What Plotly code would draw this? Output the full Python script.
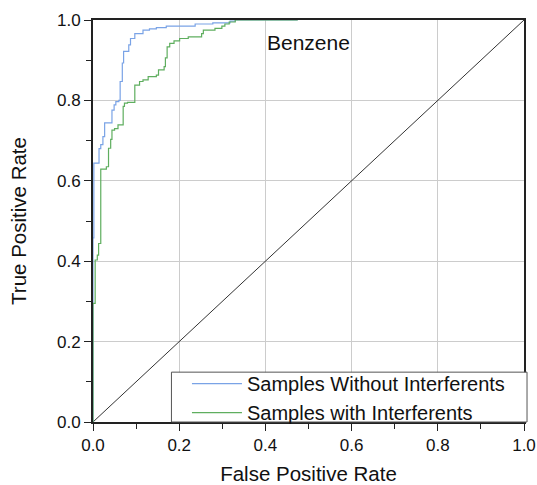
import plotly.graph_objects as go

# ROC data (step curves)
fpr_without = [0, 0, 0.002, 0.014, 0.018, 0.023, 0.027, 0.044, 0.049, 0.053, 0.060, 0.063,
               0.068, 0.071, 0.083, 0.087, 0.097, 0.116, 0.131, 0.147, 0.170, 0.237,
               0.278, 0.318, 0.330, 0.475]
tpr_without = [0, 0.458, 0.644, 0.680, 0.690, 0.710, 0.744, 0.776, 0.789, 0.797, 0.800, 0.847,
               0.893, 0.922, 0.938, 0.954, 0.966, 0.975, 0.978, 0.981, 0.985, 0.990,
               0.993, 0.997, 1.0, 1.0]

fpr_with = [0, 0, 0.005, 0.010, 0.013, 0.018, 0.031, 0.036, 0.041, 0.044, 0.050, 0.058,
            0.070, 0.073, 0.080, 0.097, 0.108, 0.116, 0.128, 0.147, 0.152, 0.165,
            0.168, 0.172, 0.178, 0.188, 0.201, 0.221, 0.252, 0.256, 0.283, 0.299,
            0.306, 0.316, 0.330, 0.475]
tpr_with = [0, 0.295, 0.403, 0.415, 0.444, 0.629, 0.635, 0.681, 0.703, 0.726, 0.730, 0.739,
            0.785, 0.793, 0.795, 0.838, 0.847, 0.851, 0.859, 0.863, 0.876, 0.884,
            0.906, 0.933, 0.942, 0.948, 0.954, 0.958, 0.966, 0.975, 0.979, 0.985,
            0.990, 0.995, 1.0, 1.0]

diag = [0, 1]
ticks = [0.0, 0.2, 0.4, 0.6, 0.8, 1.0]
tick_labels = ["0.0", "0.2", "0.4", "0.6", "0.8", "1.0"]

FONT = "Liberation Sans, Arial"

fig = go.Figure()
fig.add_trace(go.Scatter(x=diag, y=diag, mode="lines", showlegend=False,
                         line=dict(color="#333333", width=1)))
fig.add_trace(go.Scatter(x=fpr_without, y=tpr_without, mode="lines", line_shape="hv",
                         name="Samples Without Interferents",
                         line=dict(color="#7aa3e6", width=1.2)))
fig.add_trace(go.Scatter(x=fpr_with, y=tpr_with, mode="lines", line_shape="hv",
                         name="Samples with Interferents",
                         line=dict(color="#5fae5f", width=1.2)))

axis_common = dict(
    range=[0, 1], tickvals=ticks, ticktext=tick_labels,
    showgrid=True, gridcolor="#cccccc", gridwidth=1,
    showline=True, linecolor="#222222", linewidth=2, mirror=True,
    ticks="outside", ticklen=7, tickwidth=1, tickcolor="#222222",
    minor=dict(dtick=0.1, ticks="outside", ticklen=5, tickcolor="#222222", showgrid=False),
    zeroline=False, automargin=False, ticklabeloverflow="allow",
    tickfont=dict(family=FONT, size=17, color="#111111"),
)

fig.update_xaxes(**axis_common,
                 title=dict(text="False Positive Rate", standoff=17,
                            font=dict(family=FONT, size=20.5, color="#111111")))
fig.update_yaxes(**axis_common,
                 title=dict(text="True Positive Rate", standoff=25,
                            font=dict(family=FONT, size=20.5, color="#111111")))

fig.add_annotation(x=0.5, y=0.944, xref="paper", yref="paper", text="Benzene",
                   xanchor="center", yanchor="middle",
                   showarrow=False, font=dict(family=FONT, size=21, color="#111111"))

# legend frame (white box with border, bottom on the x axis)
fig.add_shape(type="rect", xref="paper", yref="paper", x0=0.182, x1=1.007, y0=0.0, y1=0.124,
              line=dict(color="#555555", width=1), fillcolor="white", layer="above")

fig.update_layout(
    width=537, height=485,
    margin=dict(l=93, r=13, t=20, b=63),
    plot_bgcolor="white", paper_bgcolor="white",
    legend=dict(x=0.218, y=0.144, xanchor="left", yanchor="top",
                bgcolor="rgba(0,0,0,0)", borderwidth=0,
                font=dict(family=FONT, size=20, color="#111111"),
                tracegroupgap=0, itemwidth=50),
)

fig.write_html(
    "out.html",
    config={"displayModeBar": False},
    post_script="document.body.style.margin='0';document.body.style.overflow='hidden';",
)
